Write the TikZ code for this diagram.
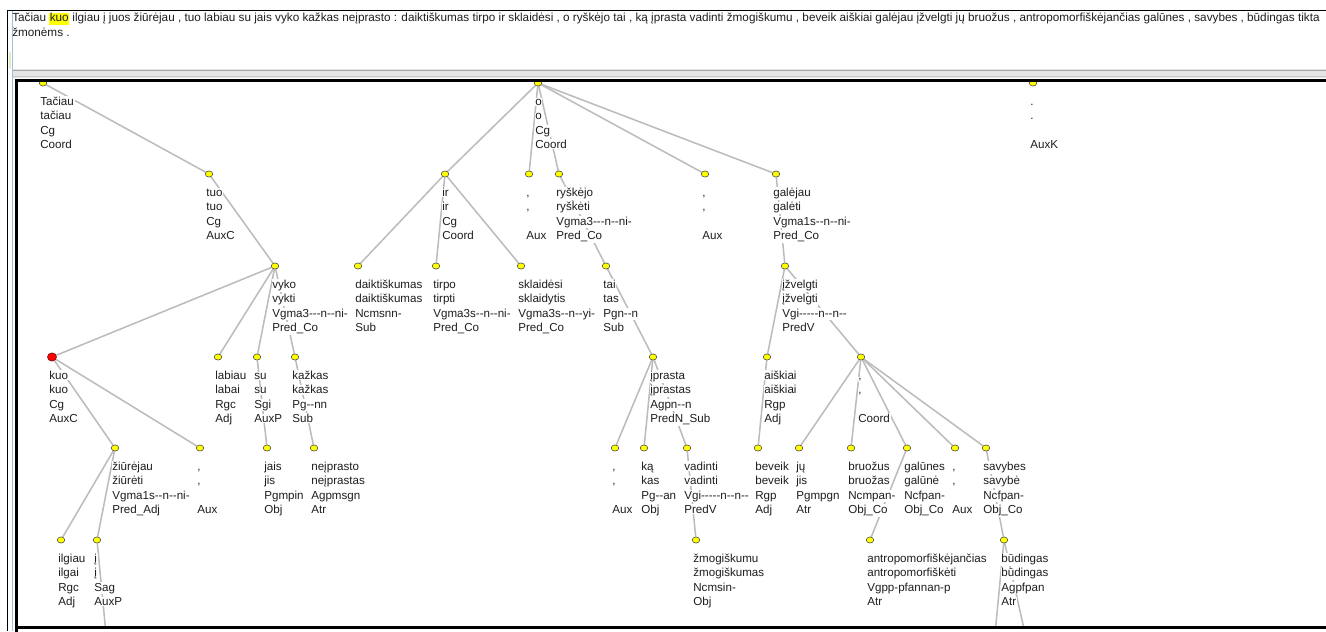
\documentclass[tikz,border=0pt]{standalone}
\usepackage{fontspec}
\setmainfont{Liberation Sans}[Ligatures=TeXOff]
\usetikzlibrary{shapes.geometric}
\pgfdeclarelayer{bg}
\pgfdeclarelayer{edges}
\pgfsetlayers{bg,edges,main}

\definecolor{dotyellow}{RGB}{255,255,0}
\definecolor{hlyellow}{RGB}{255,255,0}
\definecolor{edgegray}{RGB}{188,188,188}
\definecolor{textgray}{RGB}{30,30,30}
\definecolor{sepgray}{RGB}{228,228,228}
\definecolor{paneblue}{RGB}{160,190,225}

\newcommand\lblfont{\fontsize{8.7}{10}\selectfont}
\newcommand\sentfont{\fontsize{8.8}{10}\selectfont}

% one text line under a token dot; skipped when empty
\newcommand\lbline[5]{%
  \if\relax\detokenize{#5}\relax\else
    \node[lbl] (#1) at ({#2-3.6},{#3+22.5+14.3*#4}) {#5};%
  \fi}
% token: dot plus form / lemma / tag / function
\newcommand\tok[8][dotnode]{%
  \node[#1] (#2) at (#3,#4) {};%
  \lbline{#2-a}{#3}{#4}{0}{#5}%
  \lbline{#2-b}{#3}{#4}{1}{#6}%
  \lbline{#2-c}{#3}{#4}{2}{#7}%
  \lbline{#2-d}{#3}{#4}{3}{#8}%
}
\newcommand\hlword[1]{{\setlength\fboxsep{0.3pt}\colorbox{hlyellow}{\rule[-2pt]{0pt}{8pt}#1}}}

\tikzset{
  dotnode/.style={ellipse, draw=black!75, line width=0.4pt, fill=dotyellow,
    minimum width=5.6pt, minimum height=4.6pt, inner sep=0pt},
  reddot/.style={dotnode, fill=red, draw=red!45!black, minimum width=6.8pt, minimum height=6.2pt},
  lbl/.style={anchor=base west, fill=white, inner xsep=0.5pt, inner ysep=0.6pt,
    font=\lblfont, text=textgray},
  edge/.style={draw=edgegray, line width=1.15pt},
  sentence/.style={anchor=base west, inner sep=0pt, font=\sentfont, text=textgray},
}

\begin{document}
\begin{tikzpicture}[x=0.75pt,y=-0.75pt]
\useasboundingbox (0,0) rectangle (1326,631);

% window background and frames
\begin{pgfonlayer}{bg}
  \fill[white] (0,0) rectangle (1326,631);
  \fill[sepgray] (12,69) rectangle (1326,78);
  \draw[black!35, line width=0.6pt] (12,70) -- (1326,70);
  \draw[black!20, line width=0.6pt] (12,76.5) -- (1326,76.5);
  \fill[yellow!45!green!25] (8.6,52) rectangle (11.2,69);
  \draw[paneblue, line width=0.9pt] (12.3,11) -- (12.3,631);
  \draw[black, line width=1.1pt] (7.5,631) -- (7.5,10.5) -- (1330,10.5);
\end{pgfonlayer}

% sentence panel
\node[sentence] (line1) at (12,22) {Tačiau \hlword{kuo} ilgiau į juos žiūrėjau , tuo labiau su jais vyko kažkas neįprasto : daiktiškumas tirpo ir sklaidėsi , o ryškėjo tai , ką įprasta vadinti žmogiškumu , beveik aiškiai galėjau įžvelgti jų bruožus , antropomorfiškėjančias galūnes , savybes , būdingas tikta};
\node[sentence] (line2) at (12,36.5) {žmonėms .};

\begin{scope}
\clip (17.5,82) rectangle (1326,626);

% row 0
\tok{tac}{43}{83}{Tačiau}{tačiau}{Cg}{Coord}
\tok{o}{538}{83}{o}{o}{Cg}{Coord}
\tok{pt}{1033}{83}{.}{.}{}{AuxK}
% row 1
\tok{tuo}{209}{174}{tuo}{tuo}{Cg}{AuxC}
\tok{ir}{445}{174}{ir}{ir}{Cg}{Coord}
\tok{ca}{529}{174}{,}{,}{}{Aux}
\tok{rys}{559}{174}{ryškėjo}{ryškėti}{Vgma3---n--ni-}{Pred\_Co}
\tok{cb}{705}{174}{,}{,}{}{Aux}
\tok{gal}{776}{174}{galėjau}{galėti}{Vgma1s--n--ni-}{Pred\_Co}
% row 2
\tok{vyk}{275}{266}{vyko}{vykti}{Vgma3---n--ni-}{Pred\_Co}
\tok{dai}{358}{266}{daiktiškumas}{daiktiškumas}{Ncmsnn-}{Sub}
\tok{tir}{436}{266}{tirpo}{tirpti}{Vgma3s--n--ni-}{Pred\_Co}
\tok{skl}{521}{266}{sklaidėsi}{sklaidytis}{Vgma3s--n--yi-}{Pred\_Co}
\tok{tai}{606}{266}{tai}{tas}{Pgn--n}{Sub}
\tok{izv}{785}{266}{įžvelgti}{įžvelgti}{Vgi-----n--n--}{PredV}
% row 3
\tok[reddot]{kuo}{52}{357}{kuo}{kuo}{Cg}{AuxC}
\tok{lab}{218}{357}{labiau}{labai}{Rgc}{Adj}
\tok{su}{257}{357}{su}{su}{Sgi}{AuxP}
\tok{kaz}{295}{357}{kažkas}{kažkas}{Pg--nn}{Sub}
\tok{ipr}{653}{357}{įprasta}{įprastas}{Agpn--n}{PredN\_Sub}
\tok{ais}{767}{357}{aiškiai}{aiškiai}{Rgp}{Adj}
\tok{cc}{861}{357}{,}{,}{}{Coord}
% row 4
\tok{ziu}{115}{448}{žiūrėjau}{žiūrėti}{Vgma1s--n--ni-}{Pred\_Adj}
\tok{cd}{200}{448}{,}{,}{}{Aux}
\tok{jai}{267}{448}{jais}{jis}{Pgmpin}{Obj}
\tok{nei}{314}{448}{neįprasto}{neįprastas}{Agpmsgn}{Atr}
\tok{ce}{615}{448}{,}{,}{}{Aux}
\tok{ka}{644}{448}{ką}{kas}{Pg--an}{Obj}
\tok{vad}{687}{448}{vadinti}{vadinti}{Vgi-----n--n--}{PredV}
\tok{bev}{758}{448}{beveik}{beveik}{Rgp}{Adj}
\tok{ju}{799}{448}{jų}{jis}{Pgmpgn}{Atr}
\tok{bru}{851}{448}{bruožus}{bruožas}{Ncmpan-}{Obj\_Co}
\tok{galu}{907}{448}{galūnes}{galūnė}{Ncfpan-}{Obj\_Co}
\tok{cf}{955}{448}{,}{,}{}{Aux}
\tok{sav}{986}{448}{savybes}{savybė}{Ncfpan-}{Obj\_Co}
% row 5
\tok{ilg}{61}{540}{ilgiau}{ilgai}{Rgc}{Adj}
\tok{i}{97}{540}{į}{į}{Sag}{AuxP}
\tok{zmo}{696}{540}{žmogiškumu}{žmogiškumas}{Ncmsin-}{Obj}
\tok{ant}{870}{540}{antropomorfiškėjančias}{antropomorfiškėti}{Vgpp-pfannan-p}{Atr}
\tok{bud}{1004}{540}{būdingas}{būdingas}{Agpfpan}{Atr}

% children below the visible area
\coordinate (iDown) at (108.5,660);
\coordinate (budDownA) at (992.5,660);
\coordinate (budDownB) at (1031,660);
\end{scope}

% dependency edges
\begin{pgfonlayer}{edges}
\begin{scope}
\clip (17.5,82) rectangle (1326,626);
\draw[edge] (tac) -- (tuo);
\draw[edge] (tuo) -- (vyk);
\draw[edge] (vyk) -- (kuo);
\draw[edge] (vyk) -- (lab);
\draw[edge] (vyk) -- (su);
\draw[edge] (vyk) -- (kaz);
\draw[edge] (kuo) -- (ziu);
\draw[edge] (kuo) -- (cd);
\draw[edge] (su) -- (jai);
\draw[edge] (kaz) -- (nei);
\draw[edge] (ziu) -- (ilg);
\draw[edge] (ziu) -- (i);
\draw[edge] (i) -- (iDown);
\draw[edge] (o) -- (ir);
\draw[edge] (o) -- (ca);
\draw[edge] (o) -- (rys);
\draw[edge] (o) -- (cb);
\draw[edge] (o) -- (gal);
\draw[edge] (ir) -- (dai);
\draw[edge] (ir) -- (tir);
\draw[edge] (ir) -- (skl);
\draw[edge] (rys) -- (tai);
\draw[edge] (tai) -- (ipr);
\draw[edge] (ipr) -- (ce);
\draw[edge] (ipr) -- (ka);
\draw[edge] (ipr) -- (vad);
\draw[edge] (vad) -- (zmo);
\draw[edge] (gal) -- (izv);
\draw[edge] (izv) -- (ais);
\draw[edge] (izv) -- (cc);
\draw[edge] (ais) -- (bev);
\draw[edge] (cc) -- (ju);
\draw[edge] (cc) -- (bru);
\draw[edge] (cc) -- (galu);
\draw[edge] (cc) -- (cf);
\draw[edge] (cc) -- (sav);
\draw[edge] (galu) -- (ant);
\draw[edge] (sav) -- (bud);
\draw[edge] (bud) -- (budDownA);
\draw[edge] (bud) -- (budDownB);
\end{scope}
\end{pgfonlayer}

% tree pane border, drawn over the top row of dots
\draw[black, line width=2.1pt] (16.5,640) -- (16.5,80.8) -- (1340,80.8);
\draw[black, line width=2.3pt] (16.5,627.5) -- (1340,627.5);
\end{tikzpicture}
\end{document}
